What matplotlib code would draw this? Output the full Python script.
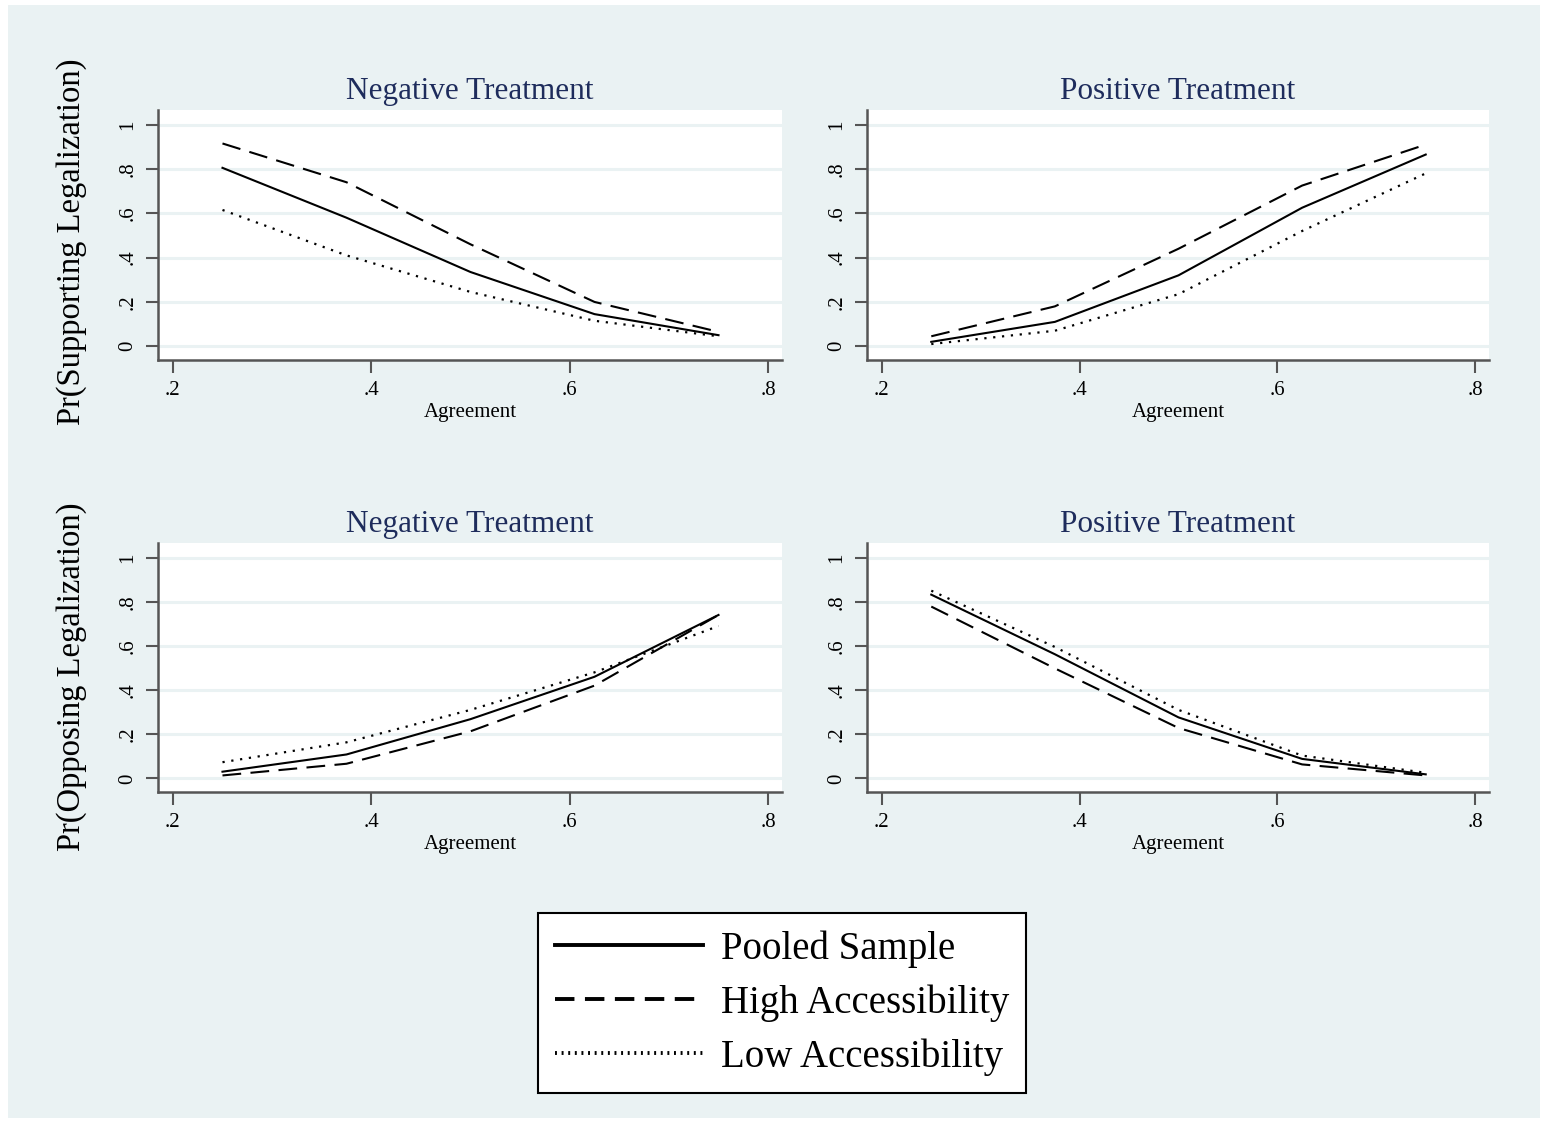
import matplotlib
matplotlib.use("Agg")
import matplotlib.pyplot as plt
from matplotlib.patches import Rectangle
from matplotlib.lines import Line2D

plt.rcParams['font.family'] = ['Liberation Serif', 'DejaVu Serif']

agreement = [0.25, 0.375, 0.5, 0.625, 0.75]

# Pr(Supporting Legalization)
sup_neg_pooled = [0.805, 0.58, 0.335, 0.145, 0.05]
sup_neg_high = [0.915, 0.74, 0.46, 0.20, 0.065]
sup_neg_low = [0.615, 0.41, 0.245, 0.115, 0.045]

sup_pos_pooled = [0.02, 0.11, 0.32, 0.625, 0.865]
sup_pos_high = [0.045, 0.18, 0.44, 0.725, 0.91]
sup_pos_low = [0.01, 0.07, 0.235, 0.52, 0.78]

# Pr(Opposing Legalization)
opp_neg_pooled = [0.03, 0.108, 0.268, 0.46, 0.74]
opp_neg_high = [0.013, 0.066, 0.213, 0.42, 0.74]
opp_neg_low = [0.073, 0.163, 0.31, 0.48, 0.69]

opp_pos_pooled = [0.832, 0.562, 0.276, 0.088, 0.018]
opp_pos_high = [0.778, 0.498, 0.228, 0.063, 0.013]
opp_pos_low = [0.85, 0.595, 0.31, 0.103, 0.025]

titles = ["Negative Treatment", "Positive Treatment"]
ylabels = ["Pr(Supporting Legalization)", "Pr(Opposing Legalization)"]
series_names = ["Pooled Sample", "High Accessibility", "Low Accessibility"]
xticks = [0.2, 0.4, 0.6, 0.8]
xticklabels = [".2", ".4", ".6", ".8"]
yticks = [0, 0.2, 0.4, 0.6, 0.8, 1.0]
yticklabels = ["0", ".2", ".4", ".6", ".8", "1"]

panels = [
    [(sup_neg_pooled, sup_neg_high, sup_neg_low), (sup_pos_pooled, sup_pos_high, sup_pos_low)],
    [(opp_neg_pooled, opp_neg_high, opp_neg_low), (opp_pos_pooled, opp_pos_high, opp_pos_low)],
]

W, H = 1547, 1125
fig = plt.figure(figsize=(W / 100, H / 100), dpi=100)
fig.patch.set_facecolor("white")
BG = "#EAF2F3"
bgrect = Rectangle((8 / W, 1 - 1118 / H), (1540 - 8) / W, (1118 - 5) / H,
                   transform=fig.transFigure, facecolor=BG, edgecolor="none", zorder=-10)
fig.patches.append(bgrect)

NAVY = "#1E2C5C"
styles = [
    dict(linestyle="-", color="black", lw=1.5),
    dict(linestyle=(0, (9, 4.5)), color="black", lw=1.5),
    dict(linestyle=(0, (1, 3)), color="black", lw=1.6),
]

# pixel boxes: (left, right, top, bottom)
cols = [(158, 782), (867, 1489)]
rows = [(110, 360), (543, 792)]

for r, (top, bot) in enumerate(rows):
    for c, (lft, rgt) in enumerate(cols):
        ax = fig.add_axes([lft / W, 1 - bot / H, (rgt - lft) / W, (bot - top) / H])
        ax.set_facecolor("white")
        for s, ys in enumerate(panels[r][c]):
            ax.plot(agreement, ys, **styles[s], zorder=3)
        ax.set_xlim(0.185, 0.814)
        ax.set_ylim(-0.062, 1.066)
        ax.set_xticks(xticks)
        ax.set_xticklabels(xticklabels, fontsize=15)
        ax.set_yticks(yticks)
        ax.set_yticklabels(yticklabels, fontsize=15, rotation=90, va="center")
        ax.grid(axis="y", color=BG, lw=2.2, zorder=1)
        ax.set_axisbelow(True)
        for sp in ["top", "right"]:
            ax.spines[sp].set_visible(False)
        for sp in ["left", "bottom"]:
            ax.spines[sp].set_color("#555555")
            ax.spines[sp].set_linewidth(1.8)
        ax.tick_params(axis="both", length=9, width=1.5, color="#555555", pad=6)
        ax.set_xlabel("Agreement", fontsize=15, labelpad=2)
        ax.set_title(titles[c], fontsize=22.5, color=NAVY, pad=8)

ylabel_centers = [242, 677]
for r in range(2):
    fig.text(72 / W, 1 - ylabel_centers[r] / H, ylabels[r], rotation=90,
             ha="center", va="center", fontsize=23.5)

handles = [Line2D([], [], **dict(styles[i], lw=2.8)) for i in range(3)]
handles[1].set_linestyle((0, (5, 2.7)))
handles[2].set_linestyle((0, (0.5, 1.2)))
leg = fig.legend(handles, series_names, loc="center",
                 bbox_to_anchor=((532 + 1032) / 2 / W, 1 - 1003 / H),
                 fontsize=28, frameon=True, fancybox=False, handlelength=3.8,
                 handletextpad=0.45, labelspacing=0.42, borderpad=0.45, borderaxespad=0,
                 framealpha=1)
leg.get_frame().set_edgecolor("black")
leg.get_frame().set_linewidth(1.5)
leg.get_frame().set_facecolor("white")

fig.savefig("out.png", dpi=100, facecolor=fig.get_facecolor())
